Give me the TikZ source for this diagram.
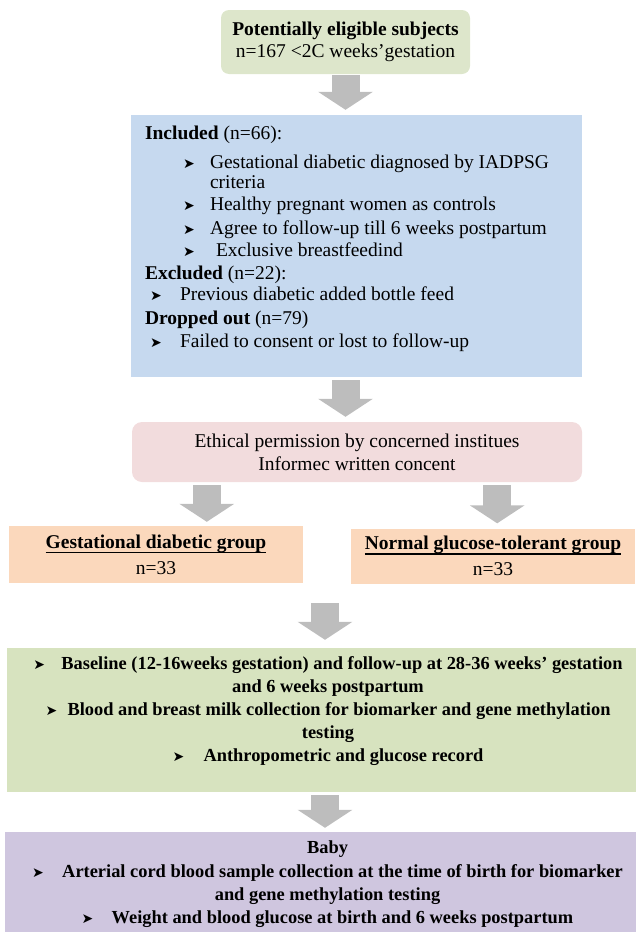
\documentclass[tikz,border=0pt]{standalone}
\usepackage{fontspec}
\setmainfont{Liberation Serif}
\newfontfamily\symfont{DejaVu Sans}
\usepackage{tikz}
\usetikzlibrary{arrows.meta,positioning}

\definecolor{eligfill}{HTML}{DDE6CB}
\definecolor{inclfill}{HTML}{C6D9EF}
\definecolor{ethicfill}{HTML}{F2DCDD}
\definecolor{groupfill}{HTML}{FBD8BC}
\definecolor{procfill}{HTML}{D7E3BF}
\definecolor{babyfill}{HTML}{CFC6DF}
\definecolor{arrowgrey}{HTML}{BDBDBD}

\newcommand{\bul}{{\symfont\fontsize{14}{14}\selectfont ➤}}
\newlength{\ulwd}
\newcommand{\ulbold}[1]{\settowidth{\ulwd}{\textbf{#1}}\rlap{\textbf{#1}}\raisebox{-4.9pt}{\rule{\ulwd}{1.4pt}}}

\begin{document}
\begin{tikzpicture}[x=1pt, y=-1pt,
    panel/.style={rectangle, draw=none, inner sep=0pt, align=center,
        font=\fontsize{19.5}{22.5}\selectfont},
    listtext/.style={inner sep=0pt, align=left, font=\fontsize{19.5}{22.5}\selectfont},
    boldtext/.style={inner sep=0pt, align=center, font=\bfseries\fontsize{18.4}{22.8}\selectfont},
    bigarrow/.style={draw=arrowgrey, line width=28pt, -{Triangle[width=54pt,length=18pt]}}
]
    \useasboundingbox (0,0) rectangle (638,932);

    \node[panel, fill=eligfill, rounded corners=8pt, minimum width=249pt, minimum height=64pt] (elig) at (345.5,42) {
        \textbf{Potentially eligible subjects}\\
        n=167 <2C weeks’gestation
    };

    \node[panel, fill=inclfill, minimum width=451pt, minimum height=262pt] (incl) at (356.5,246) {};
    \node[listtext, anchor=north west] (incltext) at ([xshift=14pt,yshift=-10.5pt]incl.north west) {
        \textbf{Included} (n=66):\\[7pt]
        \hspace*{38pt}\makebox[27pt][l]{\bul}Gestational diabetic diagnosed by IADPSG\\[-3pt]
        \hspace*{65pt}criteria\\
        \hspace*{38pt}\makebox[27pt][l]{\bul}Healthy pregnant women as controls\\[1pt]
        \hspace*{38pt}\makebox[27pt][l]{\bul}Agree to follow-up till 6 weeks postpartum\\
        \hspace*{38pt}\makebox[27pt][l]{\bul}\hspace*{6pt}Exclusive breastfeedind\\
        \textbf{Excluded} (n=22):\\[-1pt]
        \hspace*{5pt}\makebox[30pt][l]{\bul}Previous diabetic added bottle feed\\[1.5pt]
        \textbf{Dropped out} (n=79)\\
        \hspace*{5pt}\makebox[30pt][l]{\bul}Failed to consent or lost to follow-up
    };

    \node[panel, fill=ethicfill, rounded corners=10pt, minimum width=450pt, minimum height=60pt,
        font=\fontsize{19.5}{23}\selectfont] (ethic) at (357,452) {
        Ethical permission by concerned institues\\
        Informec written concent
    };

    \node[panel, fill=groupfill, minimum width=294pt, minimum height=57pt,
        font=\fontsize{19.5}{26}\selectfont] (gdm) at (156,554.5) {
        \ulbold{Gestational diabetic group}\\
        n=33
    };
    \node[panel, fill=groupfill, minimum width=284pt, minimum height=55pt,
        font=\fontsize{19.5}{26}\selectfont] (ngt) at (493,556) {
        \ulbold{Normal glucose-tolerant group}\\
        n=33
    };

    \node[panel, fill=procfill, minimum width=629pt, minimum height=144pt] (proc) at (321.5,720) {};
    \node[boldtext, anchor=north] (proctext) at ([xshift=6.5pt,yshift=-9pt]proc.north) {
        \makebox[28pt][l]{\bul}Baseline (12-16weeks gestation) and follow-up at 28-36 weeks’ gestation\\
        and 6 weeks postpartum\\
        \makebox[22pt][l]{\bul}Blood and breast milk collection for biomarker and gene methylation\\
        testing\\
        \makebox[31pt][l]{\bul}Anthropometric and glucose record
    };

    \node[panel, fill=babyfill, minimum width=631pt, minimum height=108pt] (baby) at (320.5,886) {};
    \node[boldtext, anchor=north, font=\bfseries\fontsize{18.4}{23.3}\selectfont] (babytext) at ([xshift=7pt,yshift=-9pt]baby.north) {
        Baby\\
        \makebox[30pt][l]{\bul}Arterial cord blood sample collection at the time of birth for biomarker\\
        and gene methylation testing\\
        \makebox[30pt][l]{\bul}Weight and blood glucose at birth and 6 weeks postpartum
    };

    % block arrows between the stages
    \draw[bigarrow, shorten <=1pt, shorten >=5pt] (elig.south) -- (elig.south |- incl.north);
    \draw[bigarrow, shorten <=3pt, shorten >=5pt] (elig.south |- incl.south) -- (elig.south |- ethic.north);
    \draw[bigarrow, shorten <=3pt, shorten >=4pt] ([xshift=75pt]ethic.south west) -- ([xshift=75pt]ethic.south west |- gdm.north);
    \draw[bigarrow, shorten <=3pt, shorten >=5pt] ([xshift=-85pt]ethic.south east) -- ([xshift=-85pt]ethic.south east |- ngt.north);
    \draw[bigarrow, shorten <=20pt, shorten >=8pt] ([xshift=3.5pt]proc.north |- gdm.south) -- ([xshift=3.5pt]proc.north);
    \draw[bigarrow, shorten <=3pt, shorten >=4pt] ([xshift=3.5pt]proc.south) -- ([xshift=3.5pt]proc.south |- baby.north);
\end{tikzpicture}
\end{document}
